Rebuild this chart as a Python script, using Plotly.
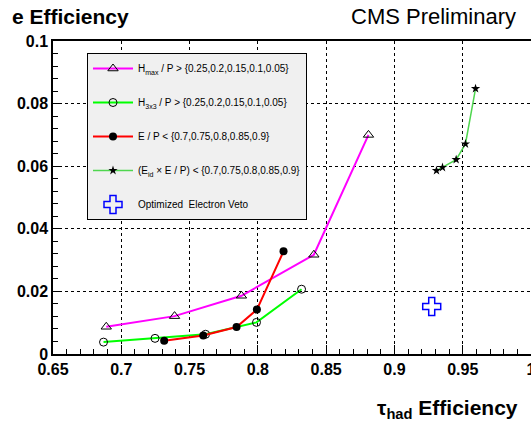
import plotly.graph_objects as go

# ---- data ----
hmax_x = [0.689, 0.739, 0.788, 0.841, 0.881]
hmax_y = [0.0087, 0.0121, 0.0186, 0.0317, 0.0700]

h3x3_x = [0.687, 0.7247, 0.7617, 0.799, 0.832]
h3x3_y = [0.0038, 0.0050, 0.0063, 0.0101, 0.0207]

ep_x = [0.7314, 0.760, 0.7844, 0.7993, 0.8188]
ep_y = [0.0042, 0.0059, 0.0086, 0.0142, 0.0328]

eid_x = [0.9308, 0.9352, 0.9452, 0.952, 0.9594]
eid_y = [0.0586, 0.0596, 0.0621, 0.0671, 0.0848]

veto_x = [0.9273]
veto_y = [0.0152]

x_ticks = [0.65, 0.7, 0.75, 0.8, 0.85, 0.9, 0.95, 1.0]
x_labels = ["0.65", "0.7", "0.75", "0.8", "0.85", "0.9", "0.95", "1"]
y_ticks = [0, 0.02, 0.04, 0.06, 0.08, 0.1]
y_labels = ["0", "0.02", "0.04", "0.06", "0.08", "0.1"]

names = [
    "H<sub>max</sub> / P &gt; {0.25,0.2,0.15,0.1,0.05}",
    "H<sub>3x3</sub> / P &gt; {0.25,0.2,0.15,0.1,0.05}",
    "E / P &lt; {0.7,0.75,0.8,0.85,0.9}",
    "(E<sub>id</sub> \u00d7 E / P) &lt; {0.7,0.75,0.8,0.85,0.9}",
    "Optimized\u00a0\u00a0Electron Veto",
]

FONT = "Liberation Sans, Arial, Helvetica, sans-serif"
W, H = 531, 427
L, R, T, B = 53, 0, 41, 73
PW, PH = W - L - R, H - T - B

def px(x):
    return (x - L) / PW

def py(y):
    return (H - B - y) / PH

fig = go.Figure()
fig.add_trace(go.Scatter(x=hmax_x, y=hmax_y, mode="lines+markers", name=names[0],
                         legendgroup="a",
                         line=dict(color="#ff00ff", width=2),
                         marker=dict(symbol="triangle-up-open", size=9, color="black",
                                     line=dict(color="black", width=1))))
fig.add_trace(go.Scatter(x=h3x3_x, y=h3x3_y, mode="lines+markers", name=names[1],
                         legendgroup="b",
                         line=dict(color="#00ff00", width=2),
                         marker=dict(symbol="circle-open", size=8, color="black",
                                     line=dict(color="black", width=1))))
fig.add_trace(go.Scatter(x=ep_x, y=ep_y, mode="lines+markers", name=names[2],
                         legendgroup="c",
                         line=dict(color="#ff0000", width=2),
                         marker=dict(symbol="circle", size=8, color="black")))
fig.add_trace(go.Scatter(x=eid_x, y=eid_y, mode="lines+markers", name=names[3],
                         legendgroup="d",
                         line=dict(color="#4fd64f", width=1.5),
                         marker=dict(symbol="star", size=7, color="black")))
fig.add_trace(go.Scatter(x=veto_x, y=veto_y, mode="markers", name=names[4],
                         legendgroup="e",
                         marker=dict(symbol="cross-open", size=15, color="blue",
                                     line=dict(color="blue", width=1.5))))

axis_common = dict(
    showline=True, linecolor="black", linewidth=1.5, mirror=True,
    showgrid=True, gridcolor="black", gridwidth=1, griddash="dot",
    zeroline=False,
    ticks="inside", ticklen=9, tickwidth=1, tickcolor="black",
    ticklabeloverflow="allow",
    tickfont=dict(family=FONT, size=16, color="black"),
)

fig.update_xaxes(range=[0.65, 1.0], tickmode="array", tickvals=x_ticks,
                 ticktext=["<b>%s</b>" % t for t in x_labels],
                 minor=dict(dtick=0.01, tick0=0.65, ticks="inside", ticklen=5,
                            tickcolor="black", showgrid=False),
                 **axis_common)
fig.update_yaxes(range=[0, 0.1], tickmode="array", tickvals=y_ticks,
                 ticktext=["<b>%s</b>" % t for t in y_labels],
                 minor=dict(dtick=0.004, tick0=0, ticks="inside", ticklen=5,
                            tickcolor="black", showgrid=False),
                 **axis_common)

fig.update_layout(
    width=W, height=H,
    margin=dict(l=L, r=R, t=T, b=B, autoexpand=False),
    paper_bgcolor="white", plot_bgcolor="white",
    font=dict(family=FONT, color="black"),
    showlegend=True,
    legend=dict(x=px(87), y=py(53), xanchor="left", yanchor="top",
                bgcolor="#f0f0f0", bordercolor="black", borderwidth=1,
                font=dict(family=FONT, size=10, color="black"),
                tracegroupgap=15, itemwidth=40, traceorder="grouped"),
    annotations=[
        dict(text="<b>e Efficiency</b>", xref="paper", yref="paper",
             x=px(10), y=py(17), xanchor="left", yanchor="middle", showarrow=False,
             font=dict(family=FONT, size=21, color="black")),
        dict(text="CMS Preliminary", xref="paper", yref="paper",
             x=px(518), y=py(17), xanchor="right", yanchor="middle", showarrow=False,
             font=dict(family=FONT, size=22, color="black")),
        dict(text="<b>\u03c4<sub>had</sub> Efficiency</b>", xref="paper", yref="paper",
             x=px(520), y=py(409), xanchor="right", yanchor="middle", showarrow=False,
             font=dict(family=FONT, size=21, color="black")),
    ],
)

fig.write_html("out.html")
